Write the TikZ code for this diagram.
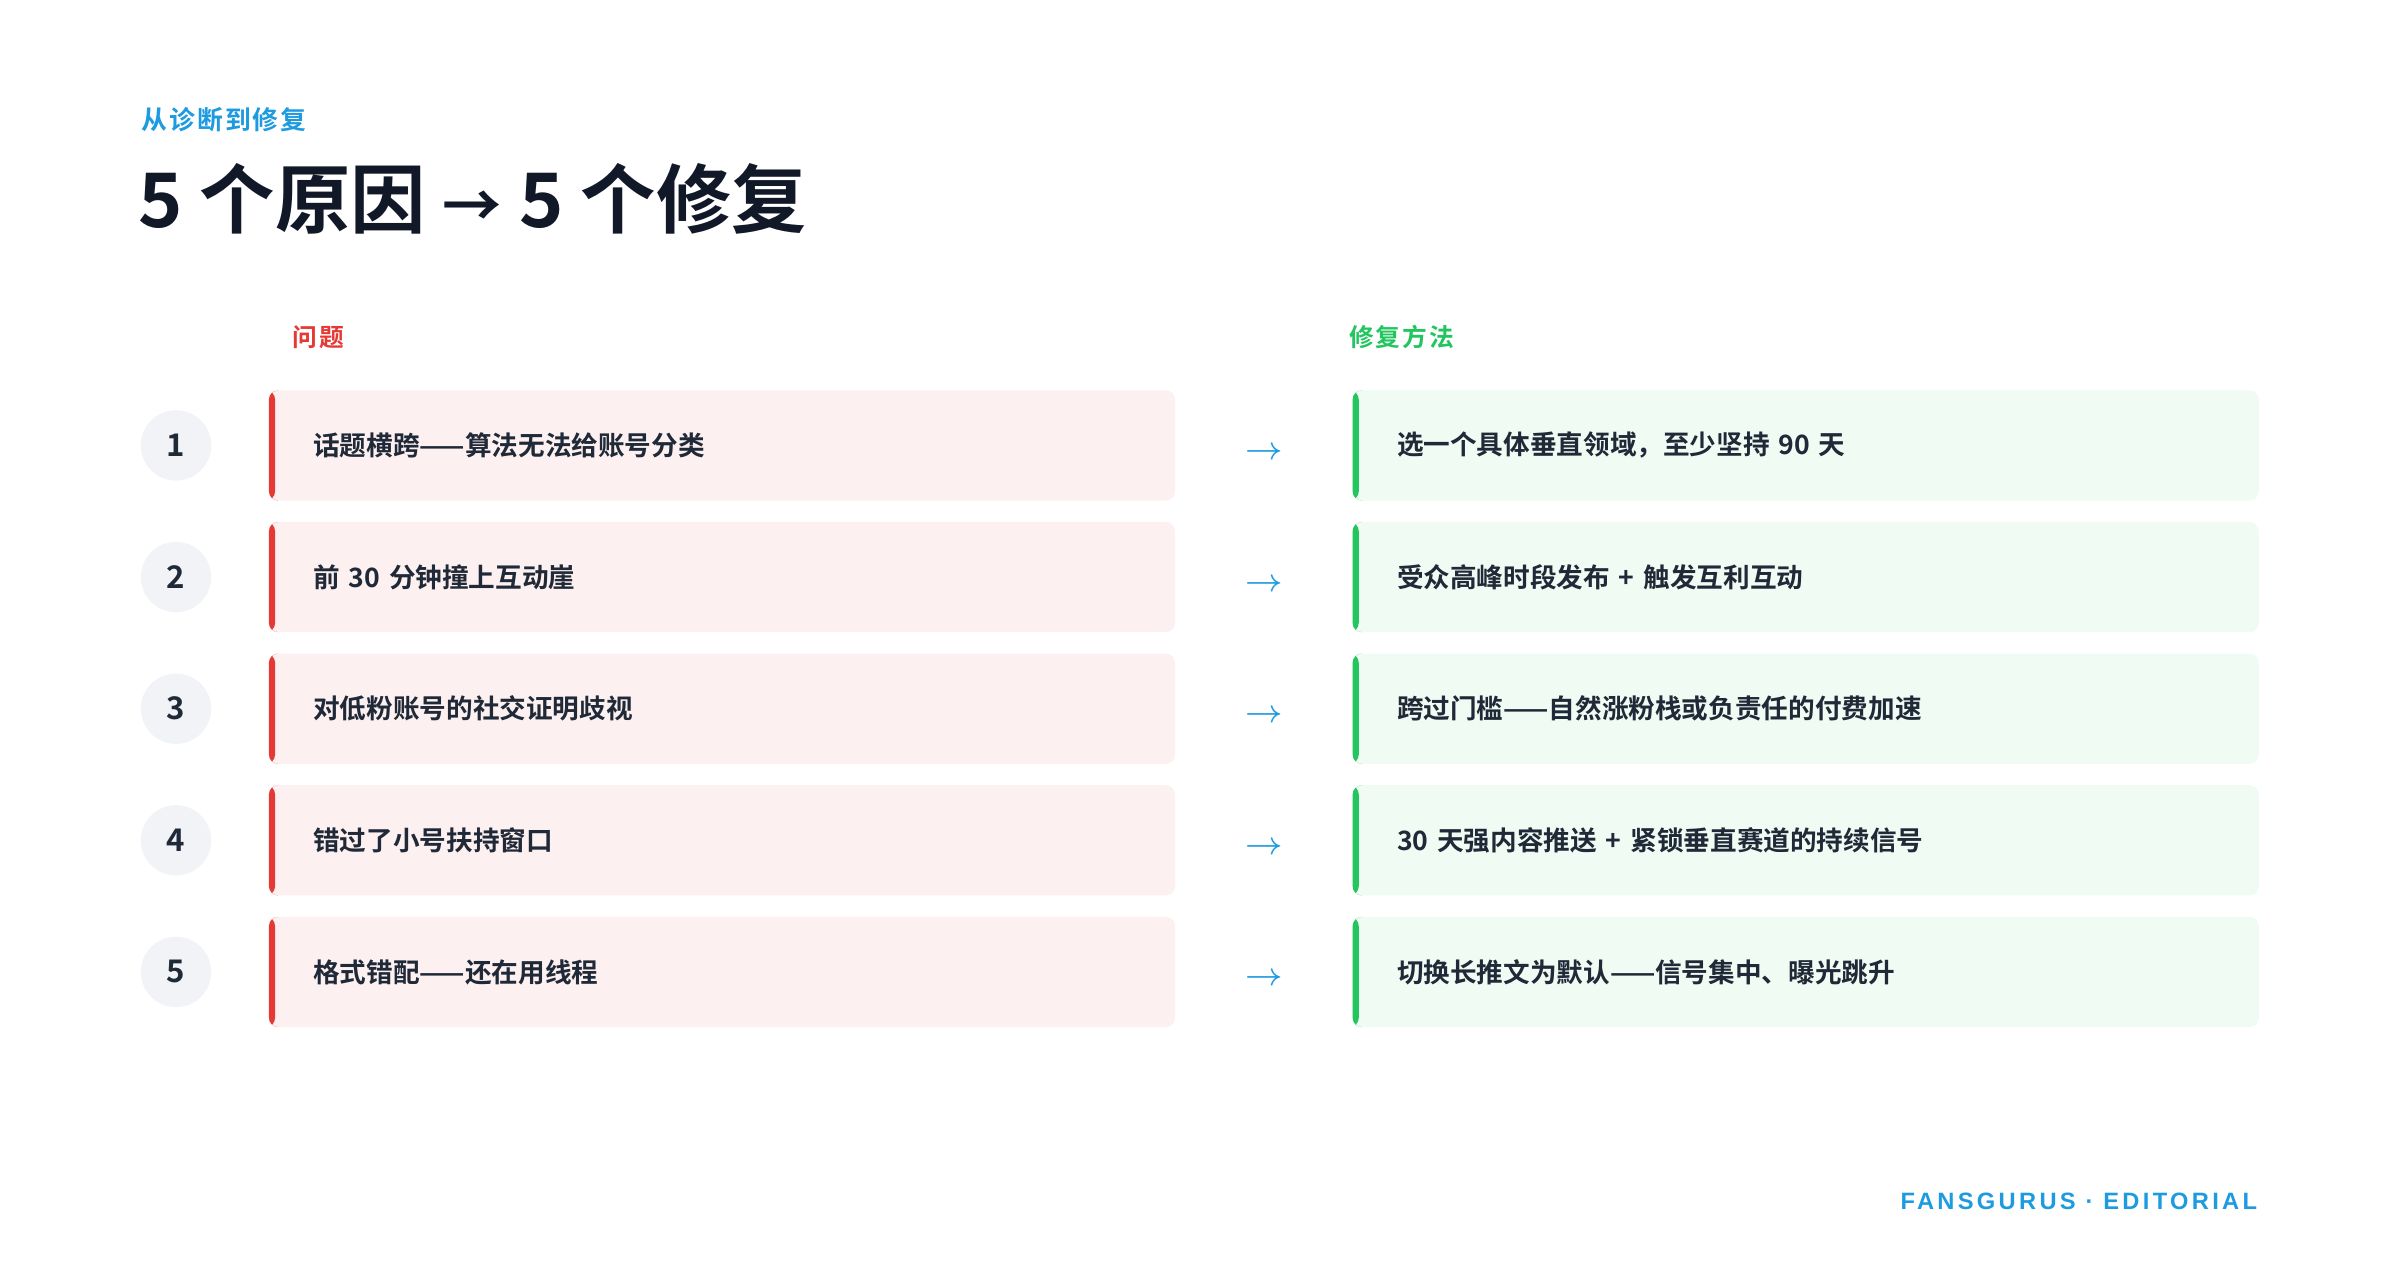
\documentclass[tikz,border=0pt]{standalone}
\usepackage{fontspec}
\usepackage{xcolor}
\setmainfont{Noto Sans CJK SC}[BoldFont={* Bold}]
\newfontfamily\footfont{Liberation Sans}[LetterSpace=14]
\newfontfamily\kickfont{Noto Sans CJK SC Bold}[LetterSpace=8]
\definecolor{fixblue}{HTML}{1E9BE0}
\definecolor{inkdark}{HTML}{111827}
\definecolor{inktext}{HTML}{1F2937}
\definecolor{probred}{HTML}{E53935}
\definecolor{problight}{HTML}{FDF0F0}
\definecolor{fixgreen}{HTML}{22C55E}
\definecolor{fixlight}{HTML}{EFFBF3}
\definecolor{numgray}{HTML}{F1F3F7}
\tikzset{
  rowbox/.style={anchor=west, minimum width=5.92cm, minimum height=0.72cm,
    rounded corners=0.06cm, inner xsep=0.29cm, text width=5.34cm, align=left,
    text=inktext, font=\bfseries\fontsize{4.95}{6}\selectfont},
  probbox/.style={rowbox, fill=problight, path picture={\fill[probred]
    (path picture bounding box.north west) rectangle ([xshift=0.04cm]path picture bounding box.south west);}},
  fixbox/.style={rowbox, fill=fixlight, path picture={\fill[fixgreen]
    (path picture bounding box.north west) rectangle ([xshift=0.04cm]path picture bounding box.south west);}},
  numdot/.style={circle, fill=numgray, minimum size=0.46cm, inner sep=0pt, text=inktext,
    font=\bfseries\fontsize{5.8}{6}\selectfont},
  headlbl/.style={anchor=west, font=\kickfont\fontsize{4.6}{5}\selectfont}
}
\begin{document}
\begin{tikzpicture}
\useasboundingbox (0,0) rectangle (15.68,-8.232);
% heading
\node[anchor=west, text=fixblue, font=\kickfont\fontsize{4.8}{5}\selectfont] (kicker) at (0.80,-0.78) {从诊断到修复};
\node[anchor=west, text=inkdark, font=\bfseries\fontsize{14}{16}\selectfont] (title) at (0.78,-1.30) {5 个原因 {\fontsize{11}{11}\selectfont→} 5 个修复};
\node[headlbl, text=probred] (probhead) at (1.79,-2.20) {问题};
\node[headlbl, text=fixgreen] (fixhead) at (8.69,-2.20) {修复方法};
% rows
\foreach \i/\prob/\fix in {
  1/话题横跨——算法无法给账号分类/选一个具体垂直领域，至少坚持 90 天,
  2/前 30 分钟撞上互动崖/受众高峰时段发布 + 触发互利互动,
  3/对低粉账号的社交证明歧视/跨过门槛——自然涨粉栈或负责任的付费加速,
  4/错过了小号扶持窗口/30 天强内容推送 + 紧锁垂直赛道的持续信号,
  5/格式错配——还在用线程/切换长推文为默认——信号集中、曝光跳升}{
  \node[numdot] (num\i) at (1.15,{-2.91-0.86*(\i-1)}) {\i};
  \node[probbox] (prob\i) at (1.75,{-2.91-0.86*(\i-1)}) {\prob};
  \node[fixbox] (fix\i) at (8.83,{-2.91-0.86*(\i-1)}) {\fix};
  \node[text=fixblue, font=\fontsize{6}{6}\selectfont] (arr\i) at (8.26,{-2.96-0.86*(\i-1)}) {$\rightarrow$};
}
% footer
\node[anchor=east, text=fixblue, font=\footfont\bfseries\fontsize{4.4}{5}\selectfont] (foot) at (14.87,-7.85) {FANSGURUS · EDITORIAL};
\end{tikzpicture}
\end{document}
